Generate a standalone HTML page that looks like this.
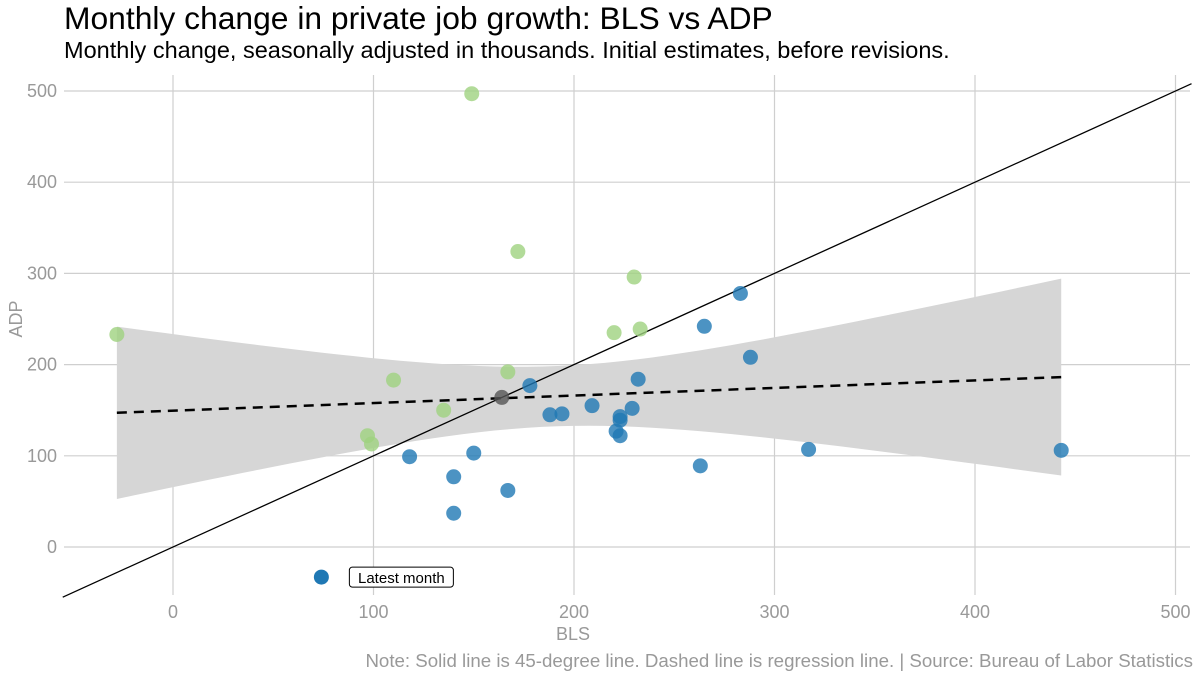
<!DOCTYPE html>
<html><head><meta charset="utf-8">
<style>
body{margin:0;background:#fff;font-family:"Liberation Sans",sans-serif;}
</style></head>
<body>
<svg id="chart" width="1200" height="676" xmlns="http://www.w3.org/2000/svg">
<text x="64" y="29" font-size="31.8" fill="#000">Monthly change in private job growth: BLS vs ADP</text>
<text x="64" y="58" font-size="23.5" fill="#000">Monthly change, seasonally adjusted in thousands. Initial estimates, before revisions.</text>
<g id="grid"></g><g id="band"></g><g id="lines"></g><g id="pts"></g><g id="axes"></g>
<text x="1193" y="667" font-size="18.7" fill="#999" text-anchor="end">Note: Solid line is 45-degree line. Dashed line is regression line. | Source: Bureau of Labor Statistics</text>
<text x="573" y="640" font-size="18" fill="#999" text-anchor="middle">BLS</text>
<text transform="translate(22,319) rotate(-90)" font-size="18" fill="#999" text-anchor="middle">ADP</text>
</svg>
<script>
const blsValues=[-28,149,172,230,220,233,110,167,135,97,99,164,178,188,194,209,232,223,223,229,221,223,265,283,288,263,317,443,150,118,140,140,167,74];
const adpValues=[233,497,324,296,235,239,183,192,150,122,113,164,177,145,146,155,184,143,139,152,127,122,242,278,208,89,107,106,103,99,77,37,62,-33];
const pointGroup=["g","g","g","g","g","g","g","g","g","g","g","k","b","b","b","b","b","b","b","b","b","b","b","b","b","b","b","b","b","b","b","b","b","b"];
const xTicks=[0,100,200,300,400,500];
const yTicks=[0,100,200,300,400,500];
const regIntercept=149.5, regSlope=0.083;
const NS="http://www.w3.org/2000/svg";
const X=v=>173+v*2.005, Y=v=>547-v*0.912;
function mk(p,t,a){const e=document.createElementNS(NS,t);for(const k in a)e.setAttribute(k,a[k]);p.appendChild(e);return e;}
const grid=document.getElementById('grid');
xTicks.forEach(t=>{const l=mk(grid,'line',{x1:X(t),x2:X(t),y1:75,y2:595,stroke:'#cfcfcf','stroke-width':1.2});

const tx=mk(document.getElementById('axes'),'text',{x:X(t),y:618,'font-size':18,fill:'#999','text-anchor':'middle'});tx.textContent=t;
});
yTicks.forEach(t=>{const l=mk(grid,'line',{x1:64,x2:1190,y1:Y(t),y2:Y(t),stroke:'#cfcfcf','stroke-width':1.2});

const tx=mk(document.getElementById('axes'),'text',{x:57,y:Y(t)+6,'font-size':18,fill:'#999','text-anchor':'end'});tx.textContent=t;
});
const xmin=Math.min(...blsValues), xmax=Math.max(...blsValues);
const hw=x=>Math.sqrt(1089+0.165*(x-190)*(x-190));
let up=[],lo=[];
for(let i=0;i<=60;i++){const x=xmin+(xmax-xmin)*i/60;const r=regIntercept+regSlope*x;up.push(X(x)+','+Y(r+hw(x)));lo.unshift(X(x)+','+Y(r-hw(x)));}
const band=mk(document.getElementById('band'),'polygon',{points:up.concat(lo).join(' '),fill:'#d6d6d6'});

const lines=document.getElementById('lines');
const d45=mk(lines,'line',{x1:X(-55),y1:Y(-55),x2:X(508),y2:Y(508),stroke:'#000','stroke-width':1.3});

const reg=mk(lines,'line',{x1:X(xmin),y1:Y(regIntercept+regSlope*xmin),x2:X(xmax),y2:Y(regIntercept+regSlope*xmax),stroke:'#000','stroke-width':2.5,'stroke-dasharray':'10,7'});

const cols={g:'#9fd27f',k:'#555',b:'#1f78b4'};
const pts=document.getElementById('pts');
blsValues.forEach((v,i)=>{const last=i===blsValues.length-1;
const c=mk(pts,'circle',{cx:X(v),cy:Y(adpValues[i]),r:7.5,fill:cols[pointGroup[i]],'fill-opacity':last?1:0.8});
});
const lx=X(74);
const lb=mk(pts,'rect',{x:lx+28,y:Y(-33)-10,width:104,height:20,rx:3,fill:'#fff',stroke:'#000','stroke-width':1});

const lt=mk(pts,'text',{x:lx+80,y:Y(-33)+6,'font-size':15,'text-anchor':'middle',fill:'#000'});lt.textContent='Latest month';

</script>
</body></html>
